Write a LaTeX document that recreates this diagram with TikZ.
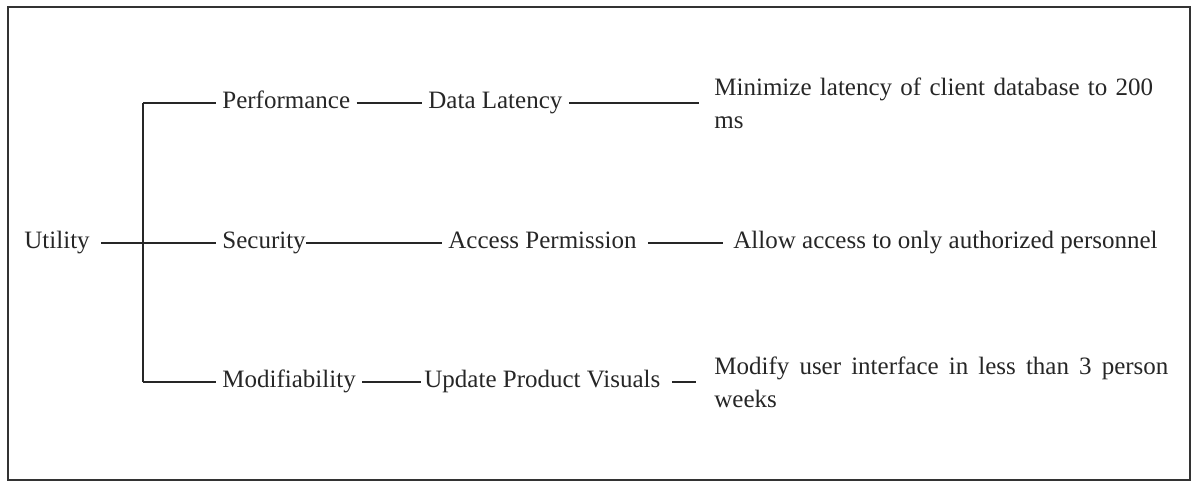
\documentclass[tikz,border=0pt]{standalone}
\usepackage{fontspec}
\setmainfont{Liberation Serif}
\begin{document}
\begin{tikzpicture}[
    x=0.5pt, y=-0.5pt,
    label/.style={inner sep=3pt, anchor=west, text=black!85,
      text height=1.6ex, text depth=0.4ex,
      font=\fontsize{12.5}{16.5}\selectfont},
    goal/.style={label, text height=, text depth=, text width=227pt,
      align=justify},
    link/.style={line width=0.75pt, draw=black!85}
  ]
  \useasboundingbox (0,0) rectangle (1192,482);
  % outer frame
  \draw[line width=1pt, draw=black!80] (8,7) rectangle (1190,480);

  % root and quality attributes
  \node[label] (utility) at (18,243) {Utility};
  \node[label] (perf) at (216,103) {Performance};
  \node[label] (sec) at (216,243) {Security};
  \node[label] (modif) at (216,382) {Modifiability};

  % refinements
  \node[label] (latency) at (422,103) {Data Latency};
  \node[label] (access) at (442,243) {Access Permission};
  \node[label] (visuals) at (418,382) {Update Product Visuals};

  % scenarios
  \node[goal, align=left] (minimize) at (708,103)
    {Minimize latency of client database to 200\\ ms};
  \node[label] (allow) at (727,243)
    {Allow access to only authorized personnel};
  \node[goal] (modify) at (708,382)
    {Modify user interface in less than 3 person\linebreak weeks};

  % tree branches
  \coordinate (jP) at (143,103);
  \coordinate (jM) at (143,382);
  \draw[link] (jP) -- (jM);
  \draw[link] (jP) -- (perf);
  \draw[link] (jM) -- (modif);
  \draw[link, shorten <=2.5pt] (utility) -- (sec);

  \draw[link] (perf) -- (latency);
  \draw[link, shorten >=4.5pt] (latency) -- (minimize);
  \draw[link, shorten <=-3pt] (sec) -- (access);
  \draw[link, shorten <=2.5pt, shorten >=2pt] (access) -- (allow);
  \draw[link, shorten >=-1.5pt] (modif) -- (visuals);
  \draw[link, shorten <=2.5pt, shorten >=6pt] (visuals) -- (modify);
\end{tikzpicture}
\end{document}
